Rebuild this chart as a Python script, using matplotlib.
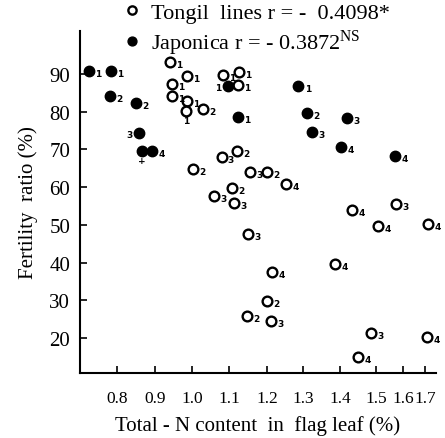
import numpy as np
import matplotlib
matplotlib.use("Agg")
import matplotlib.pyplot as plt

plt.rcParams['font.family'] = ['Liberation Serif', 'DejaVu Serif']
plt.rcParams['mathtext.fontset'] = 'custom'
plt.rcParams['mathtext.rm'] = 'Liberation Serif'

# ---- data ----
tongil_n = [0.941, 0.986, 0.946, 1.084, 1.126, 1.124, 0.946, 0.986, 0.984, 1.030,
            1.003, 1.080, 1.121, 1.155, 1.200, 1.253, 1.108, 1.059, 1.113, 1.150,
            1.433, 1.574, 1.507, 1.714, 1.214, 1.386, 1.200, 1.147, 1.211, 1.486,
            1.450, 1.709]
tongil_fert = [93.2, 89.5, 87.3, 89.7, 90.5, 87.1, 84.2, 82.8, 80.3, 80.7,
               64.8, 68.0, 69.6, 64.0, 64.0, 60.8, 59.8, 57.6, 55.8, 47.6,
               53.9, 55.5, 49.7, 50.2, 37.5, 39.6, 29.8, 25.8, 24.5, 21.3,
               14.9, 20.2]
tongil_lab = ['1', '1', '1', '1', '1', '1', '1', '1', '1', '2',
              '2', '3', '2', '3', '2', '4', '2', '3', '3', '3',
              '4', '3', '4', '4', '4', '4', '2', '2', '3', '3',
              '4', '4']
tongil_side = ['r'] * 8 + ['b'] + ['r'] * 23

jap_n = [0.724, 0.784, 0.781, 0.849, 0.857, 0.865, 0.892, 1.097, 1.124, 1.287,
         1.311, 1.419, 1.324, 1.403, 1.570]
jap_fert = [90.8, 90.8, 84.2, 82.3, 74.4, 69.6, 69.6, 86.8, 78.6, 86.8,
            79.7, 78.3, 74.6, 70.6, 68.2]
jap_lab = ['1', '1', '2', '2', '3', '+', '4', '1', '1', '1',
           '2', '3', '3', '4', '4']
jap_side = ['r', 'r', 'r', 'r', 'l', 'b', 'r', 'l', 'r', 'r',
            'r', 'r', 'r', 'r', 'r']

xticks = [0.8, 0.9, 1.0, 1.1, 1.2, 1.3, 1.4, 1.5, 1.6, 1.7]
yticks = [20, 30, 40, 50, 60, 70, 80, 90]
legend_labels = ['Tongil  lines r = -  0.4098*', 'Japonica r = - 0.3872$^{\\mathrm{NS}}$']

# non-uniform axis scale as drawn in the original
scale_x = [0.7, 0.8, 0.9, 1.0, 1.1, 1.2, 1.3, 1.4, 1.5, 1.6, 1.7, 1.75]
scale_p = [0.0, 37, 75, 112, 149, 187, 223, 260, 296, 323, 345, 356]

def fwd(x):
    return np.interp(x, scale_x, scale_p)

def inv(p):
    return np.interp(p, scale_p, scale_x)

fig = plt.figure(figsize=(4.45, 4.39), dpi=100)
ax = fig.add_axes([80/445, (439-374)/439, (436-80)/445, (374-32)/439])
ax.set_xscale('function', functions=(fwd, inv))
ax.set_xlim(0.7, 1.75)
ax.set_ylim(10.7, 101.4)

l1, = ax.plot(tongil_n, tongil_fert, 'o', ls='none', ms=7, mfc='white', mec='black',
              mew=1.7, clip_on=False, zorder=3)
l2, = ax.plot(jap_n, jap_fert, 'o', ls='none', ms=7.5, mfc='black', mec='black',
              mew=1, clip_on=False, zorder=3)

offs = {'r': ((4.5, -2), 'left'), 'l': ((-4.5, -1), 'right'), 'b': ((0, -7), 'center')}
for xs, ys, labs, sides in [(tongil_n, tongil_fert, tongil_lab, tongil_side),
                            (jap_n, jap_fert, jap_lab, jap_side)]:
    for x, y, t, s in zip(xs, ys, labs, sides):
        o, ha = offs[s]
        ax.annotate(t, (x, y), xytext=o, textcoords='offset points', ha=ha, va='center',
                    fontsize=6.5, fontweight='bold', family='DejaVu Sans')

for s in ['top', 'right']:
    ax.spines[s].set_visible(False)
for s in ['left', 'bottom']:
    ax.spines[s].set_linewidth(1.5)

ax.set_xticks(xticks)
ax.set_xticklabels([f'{v:.1f}' for v in xticks], fontsize=12.5)
ax.xaxis.set_minor_locator(matplotlib.ticker.NullLocator())
ax.set_yticks(yticks)
ax.set_yticklabels([str(v) for v in yticks], fontsize=15)
ax.tick_params(direction='in', length=5, width=1.2)
ax.tick_params(axis='x', pad=12)
ax.tick_params(axis='y', pad=7)

ax.set_xlabel('Total - N content  in  flag leaf (%)', fontsize=15, labelpad=7)
ax.set_ylabel('Fertility  ratio (%)', fontsize=15, labelpad=8)

ax.legend([l1, l2], legend_labels, loc='upper left', bbox_to_anchor=(122/445, 1.0),
          bbox_transform=fig.transFigure, frameon=False, fontsize=16, handlelength=0.6,
          handletextpad=0.55, labelspacing=0.22, borderpad=0.15, borderaxespad=0,
          markerscale=0.85)

fig.savefig('out.png', dpi=100)
